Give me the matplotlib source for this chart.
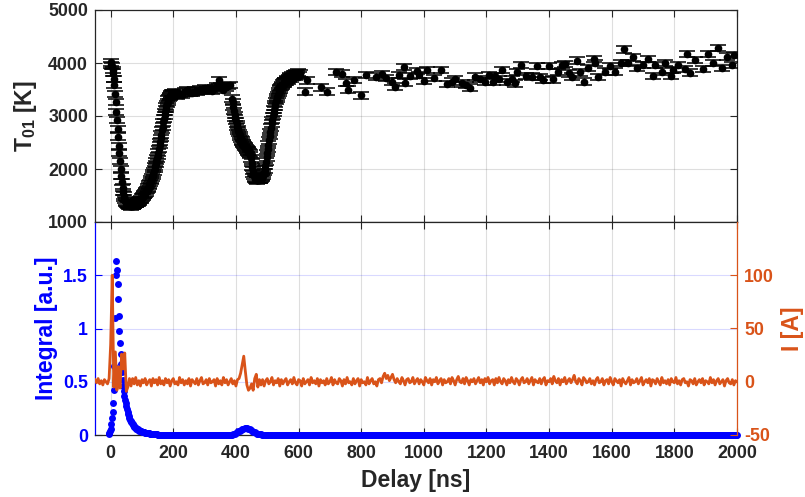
import numpy as np
import matplotlib
matplotlib.use('Agg')
import matplotlib.pyplot as plt

plt.rcParams['font.family'] = ['Liberation Sans', 'DejaVu Sans']
plt.rcParams['font.weight'] = 'bold'
plt.rcParams['axes.unicode_minus'] = False
plt.rcParams['mathtext.fontset'] = 'custom'
plt.rcParams['mathtext.rm'] = 'Liberation Sans:bold'
plt.rcParams['mathtext.bf'] = 'Liberation Sans:bold'
plt.rcParams['mathtext.default'] = 'bf'

# ---------------- data ----------------
# T01, dense part 1 (0..200 ns, every 2 ns)
t01_dense1_start, t01_dense1_step = 0, 2
t01_dense1 = [4010, 3960, 3940, 3870, 3820, 3700, 3590, 3420, 3260, 3080,
              2930, 2760, 2610, 2440, 2300, 2150, 2000, 1870, 1760, 1650,
              1570, 1500, 1450, 1410, 1385, 1360, 1340, 1335, 1320, 1310,
              1315, 1300, 1305, 1295, 1300, 1310, 1305, 1320, 1325, 1340,
              1350, 1345, 1360, 1365, 1380, 1385, 1395, 1410, 1420, 1440,
              1460, 1475, 1490, 1505, 1520, 1540, 1560, 1580, 1605, 1625,
              1650, 1680, 1710, 1740, 1770, 1800, 1840, 1875, 1915, 1955,
              2000, 2050, 2100, 2150, 2200, 2250, 2310, 2380, 2450, 2510,
              2580, 2650, 2730, 2800, 2880, 2950, 3010, 3070, 3130, 3180,
              3230, 3270, 3310, 3340, 3360, 3380, 3400, 3410, 3430, 3420,
              3440]
# T01, sparse part 1
t01_sparse1_t = [206, 212, 220, 228, 236, 244, 252, 260, 268, 276, 284, 292,
                 300, 308, 316, 324, 332, 340, 346, 352, 360, 368, 376, 382]
t01_sparse1 = [3450, 3390, 3420, 3400, 3470, 3490, 3440, 3430, 3480, 3460,
               3500, 3470, 3520, 3490, 3510, 3480, 3530, 3560, 3670, 3560,
               3500, 3540, 3570, 3590]
# T01, dense part 2 (388..600 ns, every 2 ns)
t01_dense2_start, t01_dense2_step = 388, 2
t01_dense2 = [3330, 3260, 3170, 3090, 3020, 2960, 2900, 2850, 2800, 2760,
              2720, 2680, 2640, 2600, 2570, 2540, 2510, 2490, 2470, 2450,
              2430, 2410, 2400, 2380, 2360, 2350, 2330, 2310, 2290, 2260,
              2200, 2120, 2040, 1970, 1910, 1870, 1840, 1815, 1800, 1790,
              1785, 1790, 1790, 1795, 1800, 1805, 1815, 1830, 1850, 1870,
              1900, 1940, 1990, 2060, 2140, 2220, 2300, 2380, 2460, 2540,
              2620, 2700, 2780, 2860, 2930, 3000, 3060, 3120, 3180, 3230,
              3280, 3320, 3360, 3400, 3440, 3470, 3500, 3530, 3550, 3570,
              3590, 3610, 3630, 3600, 3650, 3660, 3640, 3680, 3690, 3670,
              3720, 3700, 3730, 3760, 3710, 3740, 3770, 3730, 3760, 3790,
              3740, 3780, 3800, 3750, 3790, 3820, 3770]
# T01, sparse part 2
t01_sparse2_t = [606, 620, 627, 672, 690, 720, 740, 750, 758, 776, 798, 814,
                 846, 866, 880, 898, 909, 920, 936, 941, 957, 978, 983, 999,
                 1010, 1031, 1056, 1074, 1090, 1100, 1122, 1135, 1148, 1164,
                 1180, 1195, 1207, 1221, 1228, 1240, 1249, 1265, 1280, 1292,
                 1299, 1310, 1327, 1345, 1361, 1372, 1382, 1401, 1414, 1430,
                 1441, 1451, 1462, 1473, 1488, 1499, 1512, 1523, 1542, 1547,
                 1557, 1579, 1595, 1611, 1630, 1640, 1653, 1669, 1680, 1701,
                 1717, 1731, 1738, 1759, 1770, 1789, 1797, 1813, 1834, 1839,
                 1850, 1866, 1892, 1908, 1924, 1938, 1951, 1967, 1983, 1991]
t01_sparse2 = [3800, 3460, 3670, 3540, 3460, 3830, 3800, 3630, 3500, 3680, 3390, 3775,
               3745, 3786, 3720, 3650, 3555, 3775, 3930, 3630, 3755, 3855, 3775, 3660,
               3868, 3711, 3868, 3600, 3648, 3700, 3616, 3580, 3535, 3742,
               3700, 3650, 3774, 3648, 3755, 3700, 3868, 3640, 3700, 3616,
               3836, 3962, 3755, 3742, 3943, 3730, 3679, 3943, 3692, 3836,
               3962, 3981, 3805, 3742, 4044, 3824, 3648, 3900, 4070, 3994,
               3730, 3837, 3944, 3837, 3994, 4258, 3994, 4107, 3900, 3963,
               4070, 3755, 3963, 3837, 3994, 3755, 3868, 3963, 3881, 4170,
               3818, 4057, 3881, 4170, 3994, 4277, 3900, 4120, 3963, 4151]
t01_err = 60

# Integral (left axis of lower panel)
integ_early_start, integ_early_step = -6, 2
integ_early = [0.01, 0.02, 0.04, 0.06, 0.10, 0.16, 0.22, 0.30, 0.42, 0.65,
               1.10, 1.50, 1.63, 1.55, 1.42, 1.28, 1.12, 0.98, 0.86, 0.76,
               0.67, 0.59, 0.52, 0.46, 0.41, 0.37, 0.33, 0.30, 0.27, 0.24,
               0.22, 0.20, 0.18, 0.16, 0.145, 0.13, 0.12, 0.11, 0.10, 0.092,
               0.085, 0.078, 0.072, 0.066, 0.061, 0.056, 0.052, 0.048, 0.045, 0.042,
               0.039, 0.036, 0.034, 0.032, 0.030, 0.028, 0.026, 0.025, 0.023, 0.022,
               0.020, 0.019, 0.018, 0.017, 0.016, 0.015, 0.014, 0.013, 0.012, 0.011,
               0.010, 0.009, 0.008, 0.008, 0.007, 0.006, 0.005, 0.005, 0.004, 0.003,
               0.002, 0.001, 0.0]
integ_bump_start, integ_bump_step = 380, 4
integ_bump = [0.0, 0.001, 0.003, 0.006, 0.010, 0.016, 0.024, 0.033, 0.042, 0.050,
              0.056, 0.060, 0.063, 0.064, 0.063, 0.060, 0.055, 0.048, 0.040, 0.032,
              0.025, 0.019, 0.014, 0.010, 0.007, 0.005, 0.004, 0.003, 0.002, 0.002,
              0.001, 0.001, 0.0, 0.0, 0.0, 0.0]
integ_base_ranges = [(160, 378), (524, 2000)]
integ_base_step = 2
integ_base_value = 0.0

# Current I [A] (right axis), sampled every 5 ns
curr_segments = [
    (-50, [2, -1, 3, -2, 1, -3, 2, 0, -2, 3]),
    (0, [35, 100, -5, 28, -8, 14, -6, 26, 12, 27, -9, -5, 3, -4]),
    (70, [3, -2, 4, -3, 1, -4, 2, -1, 3, -3,
          0, 2, -4, 3, -1, 2, -3, 4, -2, 1,
          -3, 3, -1, 2, -4, 1, 3, -2, 0, -3,
          4, -1, 2, -3, 1, -2, 3, -4, 2, 0,
          -2, 3, -3, 1, 4, -2, -1, 2, -3, 3,
          -1, 0, 2, -4, 3, -2, 1, -3, 4, -1,
          2, -3, 0, 3, -2, 1, -4, 2]),
    (410, [3, 8, 16, 24, 10, -3, -8, -6, -2, -8, 3, 7, -5, 2]),
    (480, [-3, 2, -4, 1, 3, -2, 0, 4, -3, 1, -1, 3, -4, 2, -2, 1, 3, -3, 0, 2,
           -2, 4, -1, -3, 2, 1, -4, 3, -2, 0, 2, -3, 4, -1, 1, -2, 3, -4, 2, -1,
           1, -3, 3, -2, 0, 4, -3, 2, -1, -2, 3, 1, -4, 2, -2, 4, -1, 0, -3, 3,
           -2, 1, 3, -4, 2, -1, 0, -3, 4, -2, 1, 3, -2, 0, -4, 2, 3, -1, 5, 8,
           3, 6, 1, 4, 7, 2, -1, 3, 0, -2, 4, 1, -3, 2, 3, -1, 0, 4, -2, 1,
           3, -2, 2, 0, -3, 4, 1, -1, 3, -3, 2, 0, 4, -2, 1, 3, -3, 2, -1, 0,
           3, -2, 4, 1, -3, 2, 5, 0, -1, 3, -2, 4, 1, -3, 2, 0, 3, -2, 1, 4,
           -1, 2, -3, 3, 0, 4, -2, 1, 2, -3, 3, -1, 4, 0, -2, 3, 1, -3, 2, -1,
           4, 0, -2, 3, 1, -3, 2, 4, -1, 0, 3, -2, 1, 4, -3, 2, 0, -1, 3, -2,
           2, 4, -3, 1, 0, 3, -2, 5, 1, -1, 3, -3, 2, 0, 4, -2, 1, 3, -1, 2,
           6, 0, -2, 3, 1, -3, 4, 2, -1, 0, 3, -2, 1, -3, 2, 4, -1, 0, 3, -3,
           1, 2, -2, 4, 0, -3, 3, 1, -1, 2, -4, 3, 0, -2, 1, 4, -3, 2, -1, 0,
           3, -2, 1, 4, -3, 0, 2, -1, 3, -4, 2, 1, -2, 3, 0, -3, 4, -1, 1, -2,
           2, -3, 3, 0, -1, 4, -2, 1, -3, 2, 3, -1, 0, -4, 2, 1, -2, 3, -3, 0,
           2, -1, 3, -3, 1, 0, -2, 4, -1, 2, -3, 1, 3, -2, 0, 2, -4, 1, 3, -1,
           -2, 2, -3, 1, 0]),
]
curr_step = 5

# axes / ticks
x_lim = (-50, 2000)
x_ticks = [0, 200, 400, 600, 800, 1000, 1200, 1400, 1600, 1800, 2000]
top_ylim = (1000, 5000)
top_yticks = [1000, 2000, 3000, 4000, 5000]
left_ylim = (0, 2)
left_yticks = [0, 0.5, 1, 1.5]
left_yticklabels = ['0', '0.5', '1', '1.5']
right_ylim = (-50, 150)
right_yticks = [-50, 0, 50, 100]

# ---------------- build arrays ----------------
t01_t = np.concatenate([
    t01_dense1_start + t01_dense1_step * np.arange(len(t01_dense1)),
    np.array(t01_sparse1_t),
    t01_dense2_start + t01_dense2_step * np.arange(len(t01_dense2)),
    np.array(t01_sparse2_t)])
t01_v = np.concatenate([t01_dense1, t01_sparse1, t01_dense2, t01_sparse2]).astype(float)

integ_t = [integ_early_start + integ_early_step * np.arange(len(integ_early)),
           integ_bump_start + integ_bump_step * np.arange(len(integ_bump))]
integ_v = [np.array(integ_early), np.array(integ_bump)]
for a, b in integ_base_ranges:
    tt = np.arange(a, b + 1, integ_base_step)
    integ_t.append(tt)
    integ_v.append(np.full(len(tt), integ_base_value))
integ_t = np.concatenate(integ_t)
integ_v = np.concatenate(integ_v)
order = np.argsort(integ_t)
integ_t, integ_v = integ_t[order], integ_v[order]

curr_t = np.concatenate([s + curr_step * np.arange(len(v)) for s, v in curr_segments])
curr_v = np.concatenate([np.array(v, float) for s, v in curr_segments])

# ---------------- figure ----------------
DARK = '#262626'
BLUE = '#0000FF'
ORANGE = '#D95319'
TICK_FS = 12.8
LABEL_FS = 16.5

fig = plt.figure(figsize=(8.05, 4.97), dpi=100)
L, W = 95 / 805, 642 / 805
ax_t = fig.add_axes([L, 1 - 222 / 497, W, 212 / 497])
ax_b = fig.add_axes([L, 1 - 435 / 497, W, 213 / 497])
ax_r = ax_b.twinx()

# top panel
ax_t.errorbar(t01_t, t01_v, yerr=t01_err, fmt='o', ms=4.5, color='black',
              mec='black', ecolor='black', elinewidth=1.0, capsize=6.0,
              capthick=1.1, zorder=3)
ax_t.set_xlim(*x_lim)
ax_t.set_ylim(*top_ylim)
ax_t.set_xticks(x_ticks)
ax_t.set_yticks(top_yticks)
ax_t.grid(True, color=DARK, alpha=0.15, lw=0.8)
ax_t.set_axisbelow(True)
ax_t.tick_params(direction='in', top=True, right=True, length=5, width=0.8,
                 colors=DARK, labelsize=TICK_FS, labelbottom=False, pad=5)
for s in ax_t.spines.values():
    s.set_color(DARK)
    s.set_linewidth(0.9)
ax_t.set_ylabel(r'T$_{01}$ [K]', fontsize=LABEL_FS, color=DARK, fontweight='bold')
ax_t.yaxis.set_label_coords(-0.088, 0.5)

# bottom panel, left axis
ax_b.plot(integ_t, integ_v, 'o', ms=5.0, color=BLUE, mec=BLUE, mew=0,
          clip_on=False, zorder=3)
ax_b.set_xlim(*x_lim)
ax_b.set_ylim(*left_ylim)
ax_b.set_xticks(x_ticks)
ax_b.set_xticklabels([str(v) for v in x_ticks])
ax_b.set_yticks(left_yticks)
ax_b.set_yticklabels(left_yticklabels)
ax_b.xaxis.grid(True, color=DARK, alpha=0.15, lw=0.8)
ax_b.yaxis.grid(True, color=BLUE, alpha=0.15, lw=0.8)
ax_b.set_axisbelow(True)
ax_b.tick_params(axis='x', direction='in', top=True, length=5, width=0.8,
                 colors=DARK, labelsize=TICK_FS, pad=7)
ax_b.tick_params(axis='y', direction='in', right=False, length=5, width=0.8,
                 colors=BLUE, labelsize=TICK_FS, pad=5)
ax_b.spines['left'].set_color(BLUE)
ax_b.spines['right'].set_visible(False)
for k in ('top', 'bottom'):
    ax_b.spines[k].set_color(DARK)
for s in ax_b.spines.values():
    s.set_linewidth(0.9)
ax_b.set_ylabel('Integral [a.u.]', fontsize=LABEL_FS, color=BLUE, fontweight='bold')
ax_b.yaxis.set_label_coords(-0.058, 0.5)
ax_b.set_xlabel('Delay [ns]', fontsize=LABEL_FS, color=DARK, fontweight='bold')
ax_b.xaxis.set_label_coords(0.5, -0.16)

# bottom panel, right axis
ax_r.plot(curr_t, curr_v, '-', lw=2.0, color=ORANGE, zorder=4)
ax_r.set_ylim(*right_ylim)
ax_r.set_yticks(right_yticks)
ax_r.set_yticklabels([str(v) for v in right_yticks])
ax_r.tick_params(axis='y', direction='in', length=5, width=0.8,
                 colors=ORANGE, labelsize=TICK_FS, pad=5)
for k in ('left', 'top', 'bottom'):
    ax_r.spines[k].set_visible(False)
ax_r.spines['right'].set_color(ORANGE)
ax_r.spines['right'].set_linewidth(0.9)
ax_r.set_ylabel('I [A]', fontsize=LABEL_FS, color=ORANGE, fontweight='bold')
ax_r.yaxis.set_label_coords(1.068, 0.5)

fig.savefig('out.png', dpi=100)
